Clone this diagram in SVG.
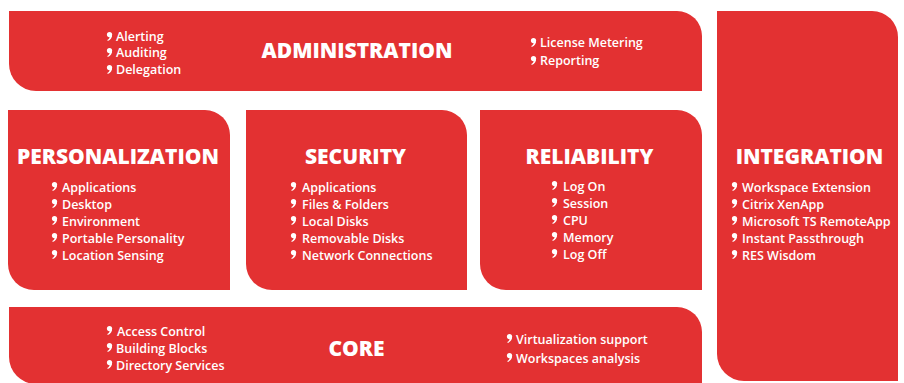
<svg xmlns="http://www.w3.org/2000/svg" xmlns:xlink="http://www.w3.org/1999/xlink" width="904" height="383" viewBox="0 0 904 383">
<style>
.box{fill:#e33132}
.t{font-family:"Open Sans","Noto Sans",sans-serif;font-weight:800;font-size:21px;fill:#fff;text-anchor:middle}
.i{font-family:"Open Sans","Noto Sans",sans-serif;font-weight:600;font-size:12.5px;fill:#fff}
.b{fill:#fff}
</style>
<defs>
<symbol id="bul" viewBox="0 0 5 9" width="5" height="9" overflow="visible">
<circle cx="2.5" cy="2.6" r="2.6"/>
<path d="M5.1,2.6 C5.3,5.8 3.6,7.9 0.8,9 L0.3,8 C2.1,7 2.9,5.6 2.6,4 Z"/>
</symbol>
</defs>
<rect width="904" height="383" fill="#fff"/>

<g id="administration">
<path class="box" d="M9,11 H677 A25,25 0 0 1 702,36 V91 H36 A27,27 0 0 1 9,64 Z"/>
<text class="t" x="357" y="58" font-size="22">ADMINISTRATION</text>
<g class="b">
<use xlink:href="#bul" x="107" y="32"/><use xlink:href="#bul" x="107" y="48"/><use xlink:href="#bul" x="107" y="65"/>
<use xlink:href="#bul" x="531" y="38"/><use xlink:href="#bul" x="531" y="56"/>
</g>
<text class="i" x="116" y="41">Alerting</text>
<text class="i" x="116" y="57">Auditing</text>
<text class="i" x="116" y="74">Delegation</text>
<text class="i" x="540" y="47">License Metering</text>
<text class="i" x="540" y="65">Reporting</text>
</g>

<g id="personalization">
<path class="box" d="M8,110 H205 A25,25 0 0 1 230,135 V290 H34 A26,26 0 0 1 8,264 Z"/>
<text class="t" x="118" y="164" font-size="22">PERSONALIZATION</text>
<g class="b">
<use xlink:href="#bul" x="52" y="182"/><use xlink:href="#bul" x="52" y="199"/><use xlink:href="#bul" x="52" y="216"/><use xlink:href="#bul" x="52" y="233"/><use xlink:href="#bul" x="52" y="250"/>
</g>
<text class="i" x="62" y="191.5">Applications</text>
<text class="i" x="62" y="208.5">Desktop</text>
<text class="i" x="62" y="225.5">Environment</text>
<text class="i" x="62" y="242.5">Portable Personality</text>
<text class="i" x="62" y="259.5">Location Sensing</text>
</g>

<g id="security">
<path class="box" d="M246,110 H442 A25,25 0 0 1 467,135 V290 H272 A26,26 0 0 1 246,264 Z"/>
<text class="t" x="355.5" y="164">SECURITY</text>
<g class="b">
<use xlink:href="#bul" x="291" y="182"/><use xlink:href="#bul" x="291" y="199"/><use xlink:href="#bul" x="291" y="216"/><use xlink:href="#bul" x="291" y="233"/><use xlink:href="#bul" x="291" y="250"/>
</g>
<text class="i" x="302" y="191.5">Applications</text>
<text class="i" x="302" y="208.5">Files &amp; Folders</text>
<text class="i" x="302" y="225.5">Local Disks</text>
<text class="i" x="302" y="242.5">Removable Disks</text>
<text class="i" x="302" y="259.5">Network Connections</text>
</g>

<g id="reliability">
<path class="box" d="M480,110 H677 A25,25 0 0 1 702,135 V290 H506 A26,26 0 0 1 480,264 Z"/>
<text class="t" x="589.5" y="164">RELIABILITY</text>
<g class="b">
<use xlink:href="#bul" x="552" y="181"/><use xlink:href="#bul" x="552" y="198"/><use xlink:href="#bul" x="552" y="215"/><use xlink:href="#bul" x="552" y="232"/><use xlink:href="#bul" x="552" y="249"/>
</g>
<text class="i" x="563" y="190.5">Log On</text>
<text class="i" x="563" y="207.5">Session</text>
<text class="i" x="563" y="224.5">CPU</text>
<text class="i" x="563" y="241.5">Memory</text>
<text class="i" x="563" y="258.5">Log Off</text>
</g>

<g id="integration">
<path class="box" d="M717,11 H872 A26,26 0 0 1 898,37 V381 H744 A27,27 0 0 1 717,354 Z"/>
<text class="t" x="809.5" y="164">INTEGRATION</text>
<g class="b">
<use xlink:href="#bul" x="732" y="182"/><use xlink:href="#bul" x="732" y="199"/><use xlink:href="#bul" x="732" y="216"/><use xlink:href="#bul" x="732" y="233"/><use xlink:href="#bul" x="732" y="250"/>
</g>
<text class="i" x="742" y="191.5">Workspace Extension</text>
<text class="i" x="742" y="208.5">Citrix XenApp</text>
<text class="i" x="742" y="225.5">Microsoft TS RemoteApp</text>
<text class="i" x="742" y="242.5">Instant Passthrough</text>
<text class="i" x="742" y="259.5">RES Wisdom</text>
</g>

<g id="core">
<path class="box" d="M9,307 H677 A25,25 0 0 1 702,332 V384 H36 A27,27 0 0 1 9,357 Z"/>
<text class="t" x="356.5" y="356">CORE</text>
<g class="b">
<use xlink:href="#bul" x="107" y="326"/><use xlink:href="#bul" x="107" y="343"/><use xlink:href="#bul" x="107" y="360"/>
<use xlink:href="#bul" x="507" y="334"/><use xlink:href="#bul" x="507" y="353"/>
</g>
<text class="i" x="117" y="335.5">Access Control</text>
<text class="i" x="116" y="352.5">Building Blocks</text>
<text class="i" x="116" y="369.5">Directory Services</text>
<text class="i" x="516" y="343.5">Virtualization support</text>
<text class="i" x="516" y="362.5">Workspaces analysis</text>
</g>
</svg>
